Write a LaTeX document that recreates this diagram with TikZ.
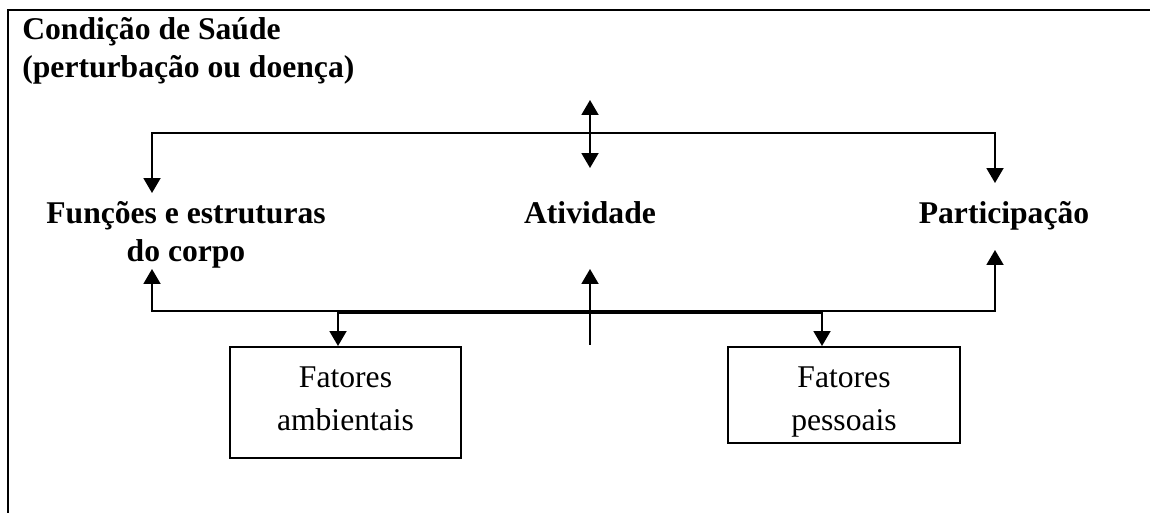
\documentclass[tikz,border=0pt]{standalone}
\usepackage{fontspec}
\setmainfont{Liberation Serif}
\usetikzlibrary{arrows.meta}

\tikzset{
  ponta/.tip={Triangle[length=0.3cm,width=0.34cm]},
  linha/.style={line width=1.1pt},
  seta/.style={linha, -ponta},
  setadupla/.style={linha, ponta-ponta},
  titulo/.style={font=\fontsize{18}{22}\selectfont\bfseries, inner sep=0pt},
  caixa/.style={draw, linha, font=\fontsize{18}{24.5}\selectfont, align=center,
    inner sep=0pt, minimum width=4.63cm, text height=1.68cm, anchor=north}
}

\begin{document}
\begin{tikzpicture}[x=0.02cm, y=-0.02cm]
\useasboundingbox (0,0) rectangle (1150,513) ;

\draw[line width=1.7pt] (8,513) -- (8,10) -- (1150,10) ;

\node[titulo, anchor=base west, align=left] (saude) at (22,78) {Condição de Saúde\\(perturbação ou doença)} ;
\node[titulo, anchor=base, align=center] (funcoes) at (186,262) {Funções e estruturas\\do corpo} ;
\node[titulo, anchor=base] (atividade) at (590,224) {Atividade} ;
\node[titulo, anchor=base] (participacao) at (1004,224) {Participação} ;
\node[caixa, text depth=0.54cm] (ambientais) at (345.5,346) {Fatores\\ambientais} ;
\node[caixa, text depth=0.24cm] (pessoais) at (844,346) {Fatores\\pessoais} ;

\coordinate (ce) at (152,133) ;
\coordinate (cd) at (995,133) ;
\coordinate (fe) at (152,193) ;
\coordinate (pd) at (995,183) ;
\coordinate (a1) at (590,100) ;
\coordinate (a2) at (590,168) ;
\draw[setadupla] (fe) -- (ce) -- (cd) -- (pd) ;
\draw[setadupla] (a1) -- (a2) ;

\coordinate (be) at (152,311) ;
\coordinate (bd) at (995,311) ;
\coordinate (fc) at (152,269) ;
\coordinate (pc) at (995,250) ;
\coordinate (a3) at (590,345) ;
\coordinate (a4) at (590,269) ;
\coordinate (ba) at (338,312) ;
\coordinate (bp) at (822,312) ;
\draw[setadupla] (fc) -- (be) -- (bd) -- (pc) ;
\draw[line width=2.2pt] (ba) -- (bp) ;
\draw[seta] (a3) -- (a4) ;
\draw[seta] (ba) -- (ba |- ambientais.north) ;
\draw[seta] (bp) -- (bp |- pessoais.north) ;
\end{tikzpicture}
\end{document}
